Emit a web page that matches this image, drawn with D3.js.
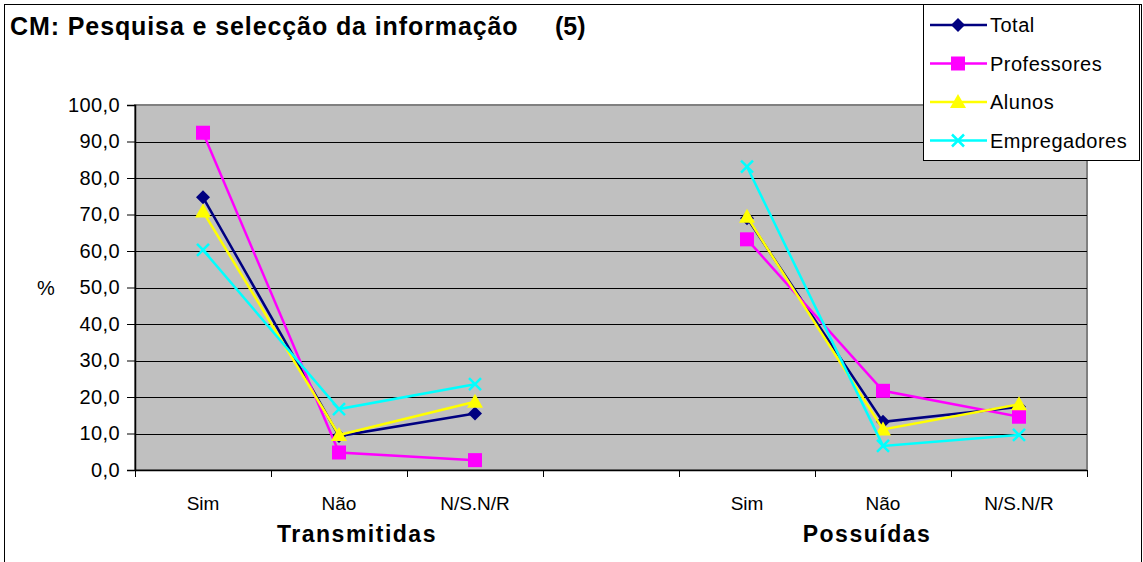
<!DOCTYPE html>
<html>
<head>
<meta charset="utf-8">
<script src="https://cdn.jsdelivr.net/npm/d3@7"></script>
<style>
  body { margin: 0; background: #fff; }
  svg { display: block; font-family: "Liberation Sans", Arial, sans-serif; }
</style>
</head>
<body>
<svg id="chart" width="1143" height="562"></svg>
<script>
  // category slots: 3 per group, one empty slot between groups
  const tickLabels = ['Sim', 'Não', 'N/S.N/R', '', 'Sim', 'Não', 'N/S.N/R'];
  const groups = ['Transmitidas', 'Possuídas'];
  const seriesNames = ['Total', 'Professores', 'Alunos', 'Empregadores'];

  const total        = [74.7,  9.3, 15.5, null, 69.0, 13.2, 17.3];
  const professores  = [92.4,  4.8,  2.7, null, 63.2, 21.7, 14.6];
  const alunos       = [70.8,  9.6, 18.7, null, 69.4, 11.1, 18.0];
  const empregadores = [60.3, 16.7, 23.5, null, 83.1,  6.6,  9.6];

  const yTicks = [0, 10, 20, 30, 40, 50, 60, 70, 80, 90, 100];

  const seriesData = [total, professores, alunos, empregadores];
  const colors = ['#000080', '#FF00FF', '#FFFF00', '#00FFFF'];
  const shapes = ['diamond', 'square', 'triangle', 'cross'];

  const svg = d3.select('#chart');
  const W = 1143, H = 562;
  const plot = { left: 135, right: 1087, top: 105, bottom: 470 };

  const loc = d3.formatLocale({ decimal: ',', thousands: '.', grouping: [3], currency: ['', ''] });
  const fmt = loc.format('.1f');

  const x = d3.scaleBand()
    .domain(d3.range(tickLabels.length))
    .range([plot.left, plot.right]);
  const edge = d3.scaleLinear()
    .domain([0, tickLabels.length])
    .range([plot.left, plot.right]);
  const y = d3.scaleLinear().domain([0, 100]).range([plot.bottom, plot.top]);

  // outer chart border
  svg.append('rect')
    .attr('x', 4.5).attr('y', 4.5)
    .attr('width', W - 6).attr('height', H)
    .attr('fill', '#fff').attr('stroke', '#000').attr('stroke-width', 1);

  // plot background
  svg.append('rect')
    .attr('x', plot.left).attr('y', plot.top)
    .attr('width', plot.right - plot.left).attr('height', plot.bottom - plot.top)
    .attr('fill', '#C0C0C0')
    .attr('stroke', '#808080').attr('stroke-width', 2);

  // gridlines
  svg.append('g')
    .selectAll('line').data(yTicks.filter(d => d > 0 && d < 100)).enter().append('line')
    .attr('x1', plot.left).attr('x2', plot.right)
    .attr('y1', d => Math.round(y(d)) + 0.5).attr('y2', d => Math.round(y(d)) + 0.5)
    .attr('stroke', '#000').attr('stroke-width', 1.2);

  // y axis
  const yAxis = svg.append('g')
    .attr('transform', `translate(${plot.left},0)`)
    .call(d3.axisLeft(y).tickValues(yTicks).tickFormat(fmt).tickSize(8).tickPadding(7));
  yAxis.select('.domain').attr('stroke', '#000').attr('stroke-width', 1.5);
  yAxis.selectAll('.tick line').attr('stroke', '#000');
  yAxis.selectAll('text').attr('font-size', 20).attr('fill', '#000')
    .attr('letter-spacing', 0.4)
    .attr('font-family', '"Liberation Sans", Arial, sans-serif');

  svg.append('text')
    .attr('x', 46).attr('y', y(50) + 7)
    .attr('text-anchor', 'middle').attr('font-size', 20)
    .text('%');

  // x axis line + tick marks at slot boundaries
  svg.append('line')
    .attr('x1', plot.left).attr('x2', plot.right)
    .attr('y1', plot.bottom + 0.5).attr('y2', plot.bottom + 0.5)
    .attr('stroke', '#000').attr('stroke-width', 1.5);
  svg.append('g')
    .selectAll('line').data(d3.range(tickLabels.length + 1)).enter().append('line')
    .attr('x1', d => Math.round(edge(d)) + 0.5).attr('x2', d => Math.round(edge(d)) + 0.5)
    .attr('y1', plot.bottom).attr('y2', plot.bottom + 7)
    .attr('stroke', '#000');

  // category labels
  svg.append('g')
    .selectAll('text').data(tickLabels).enter().append('text')
    .attr('x', (d, i) => x(i) + x.bandwidth() / 2)
    .attr('y', 510)
    .attr('text-anchor', 'middle').attr('font-size', 19)
    .text(d => d);

  // group labels
  const groupX = [357, 867];
  svg.append('g')
    .selectAll('text').data(groups).enter().append('text')
    .attr('x', (d, i) => groupX[i])
    .attr('y', 542)
    .attr('text-anchor', 'middle').attr('font-size', 23).attr('font-weight', 'bold')
    .attr('letter-spacing', 1.5)
    .text(d => d);

  // title
  svg.append('text')
    .attr('x', 10).attr('y', 35)
    .attr('font-size', 25).attr('font-weight', 'bold').attr('letter-spacing', 0.9)
    .text('CM: Pesquisa e selecção da informação');
  svg.append('text')
    .attr('x', 555).attr('y', 35)
    .attr('font-size', 25).attr('font-weight', 'bold')
    .text('(5)');

  function drawMarker(g, shape, color, cx, cy) {
    if (shape === 'diamond') {
      g.append('path')
        .attr('d', `M${cx},${cy - 7}L${cx + 7},${cy}L${cx},${cy + 7}L${cx - 7},${cy}Z`)
        .attr('fill', color);
    } else if (shape === 'square') {
      g.append('rect')
        .attr('x', cx - 7).attr('y', cy - 7).attr('width', 14).attr('height', 14)
        .attr('fill', color);
    } else if (shape === 'triangle') {
      g.append('path')
        .attr('d', `M${cx},${cy - 8}L${cx + 8},${cy + 6}L${cx - 8},${cy + 6}Z`)
        .attr('fill', color);
    } else {
      g.append('path')
        .attr('d', `M${cx - 6},${cy - 6}L${cx + 6},${cy + 6}M${cx + 6},${cy - 6}L${cx - 6},${cy + 6}`)
        .attr('stroke', color).attr('stroke-width', 2.5).attr('fill', 'none');
    }
  }

  const line = d3.line()
    .defined(d => d != null)
    .x((d, i) => x(i) + x.bandwidth() / 2)
    .y(d => y(d));

  const seriesG = svg.append('g');
  seriesData.forEach((vals, s) => {
    const g = seriesG.append('g');
    g.append('path')
      .attr('d', line(vals))
      .attr('fill', 'none')
      .attr('stroke', colors[s]).attr('stroke-width', 2.5);
    vals.forEach((v, i) => {
      if (v == null) return;
      drawMarker(g, shapes[s], colors[s], x(i) + x.bandwidth() / 2, y(v));
    });
  });

  // legend
  const lg = svg.append('g');
  lg.append('rect')
    .attr('x', 923.5).attr('y', 4.5).attr('width', 216).attr('height', 156)
    .attr('fill', '#fff').attr('stroke', '#000');
  seriesNames.forEach((name, s) => {
    const ly = 25 + s * 38.5;
    lg.append('line')
      .attr('x1', 930).attr('x2', 987).attr('y1', ly).attr('y2', ly)
      .attr('stroke', colors[s]).attr('stroke-width', 2.5);
    drawMarker(lg, shapes[s], colors[s], 958, ly);
    lg.append('text')
      .attr('x', 990).attr('y', ly + 7)
      .attr('font-size', 20).attr('letter-spacing', 0.5)
      .text(name);
  });
</script>
</body>
</html>
